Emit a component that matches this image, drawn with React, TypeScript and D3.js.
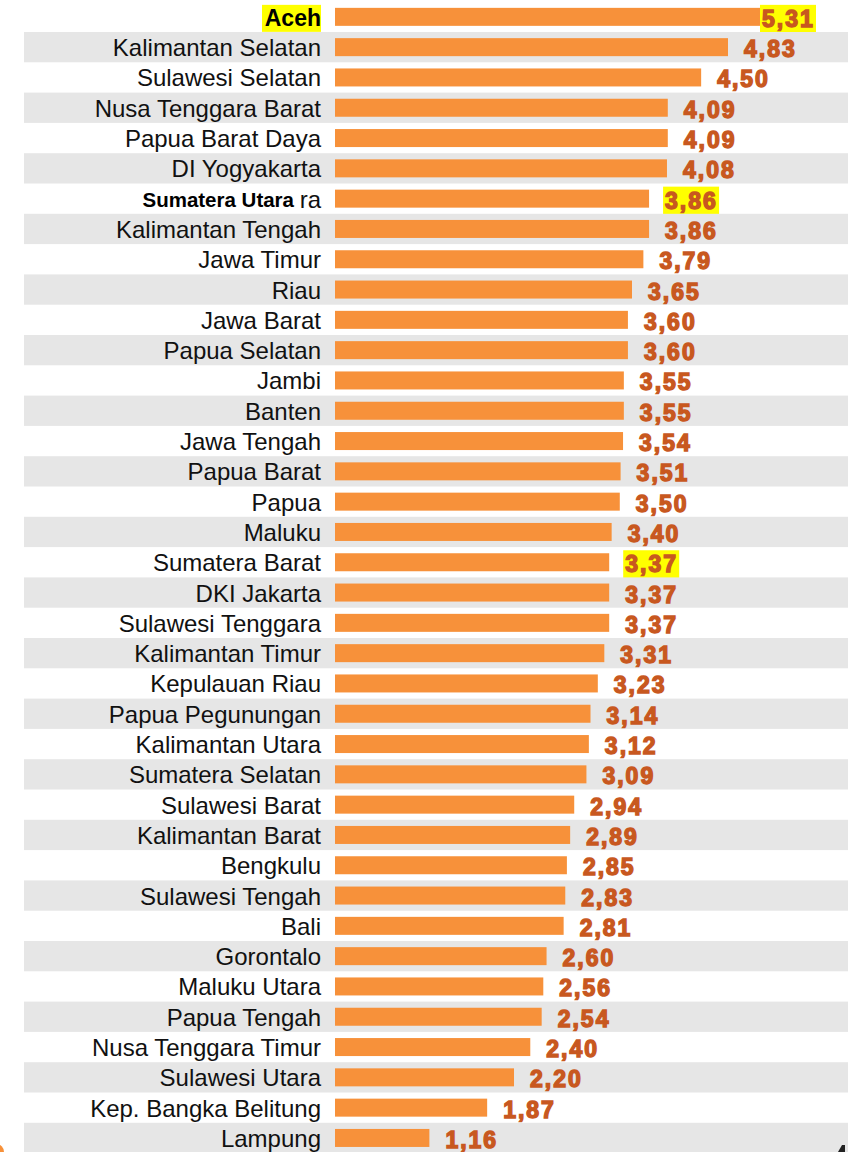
import React from "react";
import * as d3 from "d3";

const W = 856;
const H = 1152;

const provinces = [
  "Aceh", "Kalimantan Selatan", "Sulawesi Selatan", "Nusa Tenggara Barat", "Papua Barat Daya",
  "DI Yogyakarta", "Sumatera Utara", "Kalimantan Tengah", "Jawa Timur", "Riau",
  "Jawa Barat", "Papua Selatan", "Jambi", "Banten", "Jawa Tengah",
  "Papua Barat", "Papua", "Maluku", "Sumatera Barat", "DKI Jakarta",
  "Sulawesi Tenggara", "Kalimantan Timur", "Kepulauan Riau", "Papua Pegunungan", "Kalimantan Utara",
  "Sumatera Selatan", "Sulawesi Barat", "Kalimantan Barat", "Bengkulu", "Sulawesi Tengah",
  "Bali", "Gorontalo", "Maluku Utara", "Papua Tengah", "Nusa Tenggara Timur",
  "Sulawesi Utara", "Kep. Bangka Belitung", "Lampung",
];

const values = [
  5.31, 4.83, 4.50, 4.09, 4.09,
  4.08, 3.86, 3.86, 3.79, 3.65,
  3.60, 3.60, 3.55, 3.55, 3.54,
  3.51, 3.50, 3.40, 3.37, 3.37,
  3.37, 3.31, 3.23, 3.14, 3.12,
  3.09, 2.94, 2.89, 2.85, 2.83,
  2.81, 2.60, 2.56, 2.54, 2.40,
  2.20, 1.87, 1.16,
];

// value labels with a yellow marker
const highlighted = ["Aceh", "Sumatera Utara", "Sumatera Barat"];

const BAR = "#f7913a";
const VAL = "#c8581f";
const BAND = "#e6e6e6";
const YELLOW = "#ffff00";
const FONT = "Arial, 'Liberation Sans', sans-serif";

const X0 = 335;
const LABEL_X = 321;
const VALUE_MAX_X = 762;

export default function App() {
  const x = d3.scaleLinear().domain([0, 4.83]).range([X0, 728]);
  const y = d3.scaleBand<string>().domain(provinces).range([1.7, 1.7 + provinces.length * 30.3]).padding(0);
  const bh = 18;
  const fmt = (v: number) => d3.format(".2f")(v).replace(".", ",");

  return (
    <div style={{ position: "fixed", left: 0, top: 0 }}>
      <svg width={W} height={H} style={{ display: "block", background: "#fff" }}>
        {provinces.map((p, i) => {
          const top = y(p)!;
          const cy = top + y.bandwidth() / 2;
          const v = values[i];
          const xe = x(v);
          const lx = Math.min(xe + 16, VALUE_MAX_X);
          const hl = highlighted.includes(p);
          return (
            <g key={p}>
              {i % 2 === 1 && (
                <rect x={24} y={top} width={824} height={y.bandwidth()} fill={BAND} />
              )}
              <rect x={X0} y={cy - bh / 2} width={xe - X0} height={bh} fill={BAR} />
              {hl && <rect x={lx - 2} y={cy - 12} width={56} height={28} fill={YELLOW} />}
              <text
                x={lx}
                y={cy + 10}
                fill={VAL}
                stroke={VAL}
                strokeWidth={1.4}
                fontFamily={FONT}
                fontWeight="bold"
                fontSize={23}
                letterSpacing={2}
              >
                {fmt(v)}
              </text>
              {p === "Aceh" ? (
                <g>
                  <rect x={262} y={cy - 12} width={59} height={27} fill={YELLOW} />
                  <text x={LABEL_X} y={cy + 9} textAnchor="end" fontFamily={FONT} fontWeight="bold" fontSize={23} fill="#000">
                    {p}
                  </text>
                </g>
              ) : p === "Sumatera Utara" ? (
                <g>
                  <text x={LABEL_X} y={cy + 9} textAnchor="end" fontFamily={FONT} fontSize={24} fill="#111">ra</text>
                  <text x={294} y={cy + 8} textAnchor="end" fontFamily={FONT} fontWeight="bold" fontSize={20.5} fill="#000">
                    {p}
                  </text>
                </g>
              ) : (
                <text x={LABEL_X} y={cy + 9} textAnchor="end" fontFamily={FONT} fontSize={24} fill="#111">
                  {p}
                </text>
              )}
            </g>
          );
        })}
        <circle cx={-4} cy={1152} r={8} fill={BAR} />
        <path d="M838,1152 L842,1145 L845,1145 L845,1152 Z" fill="#222" />
      </svg>
    </div>
  );
}
